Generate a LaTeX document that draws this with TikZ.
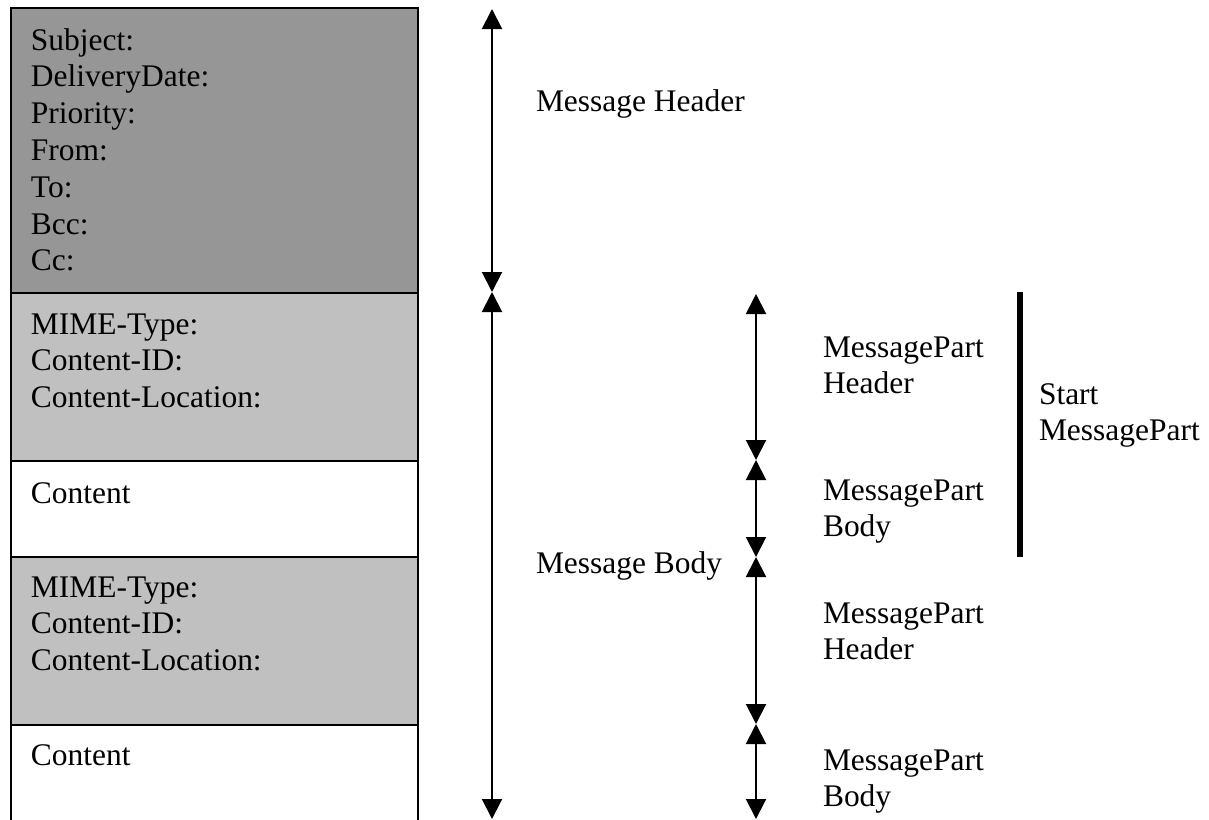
\documentclass[tikz,border=0pt]{standalone}
\usepackage{fontspec}
\setmainfont{Liberation Serif}
\usetikzlibrary{arrows.meta}
\definecolor{hdrgray}{RGB}{150,150,150}
\definecolor{partgray}{RGB}{192,192,192}
% stacked lines whose baseline is that of the first line
\newcommand\fieldlines[1]{\begin{tabular}[t]{@{}l@{}}#1\end{tabular}}
\begin{document}
\begin{tikzpicture}[x=0.75pt,y=-0.75pt,
  every node/.style={inner sep=0pt,outer sep=0pt,font=\fontsize{23.6}{27.6}\selectfont},
  field/.style={draw=black,line width=1.5pt},
  lbl/.style={anchor=base west},
  span/.style={line width=1.5pt,{Triangle[length=15pt,width=15pt]}-{Triangle[length=15pt,width=15pt]}},
  bracket/.style={line width=4.5pt}]
\useasboundingbox (0,0) rectangle (1209,819);
\clip (0,0) rectangle (1209,819);

% message layout: header block, then two parts (header + content)
\filldraw[field,fill=hdrgray]  (11,8)   rectangle (418,293);
\filldraw[field,fill=partgray] (11,293) rectangle (418,461);
\filldraw[field,fill=white]    (11,461) rectangle (418,557);
\filldraw[field,fill=partgray] (11,557) rectangle (418,725);
\filldraw[field,fill=white]    (11,725) rectangle (418,830);

\node[lbl] (hdrtext) at (31,50) {\fieldlines{Subject:\\DeliveryDate:\\Priority:\\From:\\To:\\Bcc:\\Cc:}};
\node[lbl] (mime1) at (31,334) {\fieldlines{MIME-Type:\\Content-ID:\\Content-Location:}};
\node[lbl] (cont1) at (31,503) {Content};
\node[lbl] (mime2) at (31,597) {\fieldlines{MIME-Type:\\Content-ID:\\Content-Location:}};
\node[lbl] (cont2) at (31,765) {Content};

% extent markers
\coordinate (mhtop) at (492,9);
\coordinate (mhbot) at (492,292);
\coordinate (mbbot) at (492,819);
\coordinate (p1top) at (756,294);
\coordinate (p1mid) at (756,460);
\coordinate (p2top) at (756,557);
\coordinate (p2mid) at (756,724);
\coordinate (p2bot) at (756,819);
\coordinate (sttop) at (1019.7,292);
\coordinate (stbot) at (1019.7,557);

\draw[span] (mhtop) -- (mhbot);
\draw[span] (mhbot) -- (mbbot);
\draw[span] (p1top) -- (p1mid);
\draw[span] (p1mid) -- (p2top);
\draw[span] (p2top) -- (p2mid);
\draw[span] (p2mid) -- (p2bot);
\draw[bracket] (sttop) -- (stbot);

\node[lbl] (mhlbl) at (536,111) {Message Header};
\node[lbl] (mblbl) at (536,573) {Message Body};
\node[lbl] (ph1) at (823,357) {\fieldlines{MessagePart\\Header}};
\node[lbl] (pb1) at (823,500) {\fieldlines{MessagePart\\Body}};
\node[lbl] (ph2) at (823,623) {\fieldlines{MessagePart\\Header}};
\node[lbl] (pb2) at (823,770) {\fieldlines{MessagePart\\Body}};
\node[lbl] (start) at (1039,404) {\fieldlines{Start\\MessagePart}};
\end{tikzpicture}
\end{document}
